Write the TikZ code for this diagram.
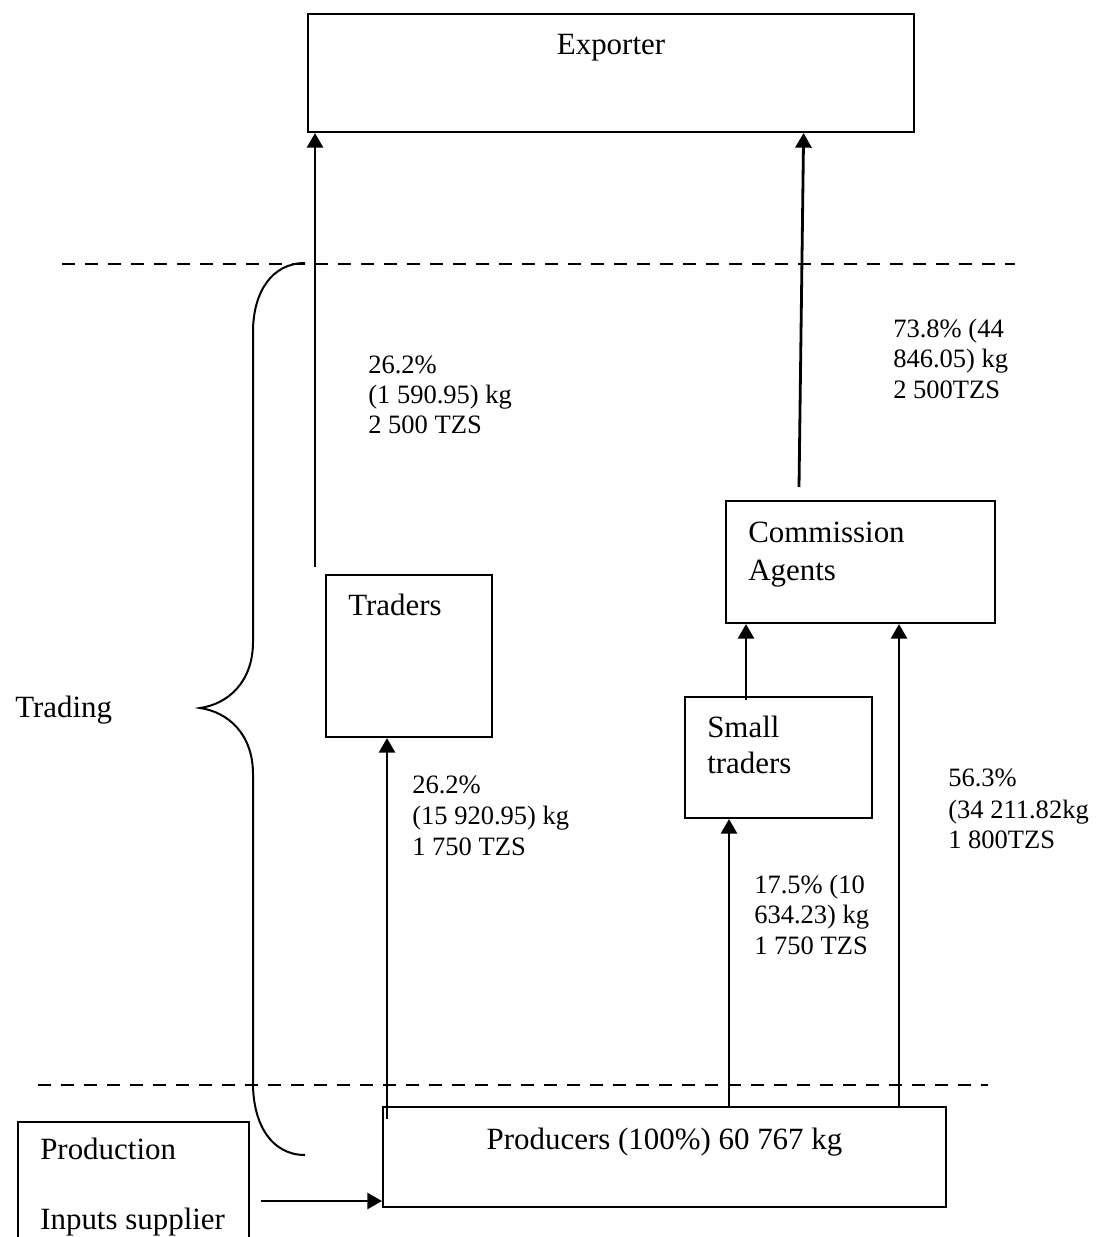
\documentclass[tikz,border=0pt]{standalone}
\usepackage{fontspec}
\setmainfont{Liberation Serif}
\usetikzlibrary{arrows.meta,calc}
\begin{document}
\begin{tikzpicture}[x=0.75pt,y=-0.75pt,
  box/.style={draw,line width=1.5pt,inner sep=0pt,rectangle},
  arr/.style={line width=2.1pt,-{Triangle[length=11pt,width=12pt]}},
  dashline/.style={line width=1.5pt,dash pattern=on 9.75pt off 7.5pt},
  big/.style={font=\fontsize{23.2pt}{27pt}\selectfont,inner sep=0pt},
  lab/.style={font=\fontsize{19.9pt}{22.5pt}\selectfont,inner sep=0pt,anchor=base west}]
\useasboundingbox (0,0) rectangle (1096,1237);
\clip (0,0) rectangle (1096,1237);
% boxes
\node[box,minimum width=454.5pt,minimum height=88.5pt] (exp) at (611,73) {};
\node[box,minimum width=124.5pt,minimum height=121.5pt] (trd) at (409,656) {};
\node[box,minimum width=201.75pt,minimum height=91.5pt] (com) at (860.5,562) {};
\node[box,minimum width=140.25pt,minimum height=90.75pt] (sml) at (778.5,757.5) {};
\node[box,minimum width=422.25pt,minimum height=75pt] (prd) at (664.5,1157) {};
\node[box,minimum width=173.25pt,minimum height=126pt] (inp) at (133.5,1206) {};
% box texts
\node[big,anchor=base] (texp) at (611,55) {Exporter};
\node[big,anchor=base] (tprd) at (664.5,1149) {Producers (100\%) 60 767 kg};
\node[big,anchor=base west] (ttrd) at (348,615) {Traders};
\node[big,anchor=base west] (tcom1) at (748,542) {Commission};
\node[big,anchor=base west] (tcom2) at (748,580) {Agents};
\node[big,anchor=base west] (tsml1) at (707,737) {Small};
\node[big,anchor=base west] (tsml2) at (707,773) {traders};
\node[big,anchor=base west] (ttrading) at (15,717) {Trading};
\node[big,anchor=base west] (tinp1) at (40,1159) {Production};
\node[big,anchor=base west] (tinp2) at (40,1229) {Inputs supplier};
% dashed lines
\coordinate (d1a) at (62,264);
\coordinate (d1b) at (1015,264);
\coordinate (d2a) at (38,1085);
\coordinate (d2b) at (988,1085);
\draw[dashline] (d1a) -- (d1b);
\draw[dashline] (d2a) -- (d2b);
% brace
\draw[line width=1.5pt] (305,263) .. controls (272,263) and (253,292) .. (253,332)
  -- (253,642) .. controls (253,682) and (228,704) .. (200,708)
  .. controls (228,712) and (253,734) .. (253,774)
  -- (253,1083) .. controls (253,1125) and (272,1155) .. (305,1155);
% connectors
\coordinate (s1) at (315,567);
\draw[arr] (s1) -- (s1 |- exp.south);
\coordinate (s2) at (799,487);
\draw[arr] (s2) -- ($(exp.south west)!0.8168!(exp.south east)$);
\coordinate (s3) at (387,1119);
\draw[arr] (s3) -- (s3 |- trd.south);
\coordinate (s4) at (729,1107);
\draw[arr] (s4) -- (s4 |- sml.south);
\coordinate (s5) at (899,1107);
\draw[arr] (s5) -- (s5 |- com.south);
\coordinate (s6) at (746,700);
\draw[arr] (s6) -- (s6 |- com.south);
\coordinate (s7) at (261,1201);
\draw[arr] (s7) -- (s7 -| prd.west);
% labels
\node[lab] (l1a) at (368,373) {26.2\%};
\node[lab] (l1b) at (368,403) {(1 590.95) kg};
\node[lab] (l1c) at (368,433) {2 500 TZS};
\node[lab] (l2a) at (893,337) {73.8\% (44};
\node[lab] (l2b) at (893,367) {846.05) kg};
\node[lab] (l2c) at (893,398) {2 500TZS};
\node[lab] (l3a) at (412,793) {26.2\%};
\node[lab] (l3b) at (412,824) {(15 920.95) kg};
\node[lab] (l3c) at (412,855) {1 750 TZS};
\node[lab] (l4a) at (948,786) {56.3\%};
\node[lab] (l4b) at (948,818) {(34 211.82kg};
\node[lab] (l4c) at (948,848) {1 800TZS};
\node[lab] (l5a) at (754,893) {17.5\% (10};
\node[lab] (l5b) at (754,923) {634.23) kg};
\node[lab] (l5c) at (754,954) {1 750 TZS};
\end{tikzpicture}
\end{document}
